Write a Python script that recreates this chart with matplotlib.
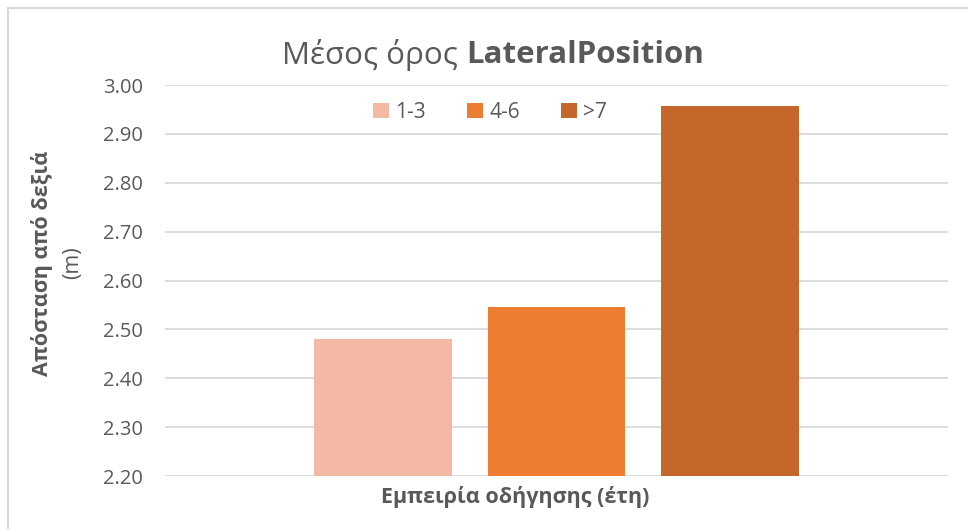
import matplotlib.pyplot as plt
from matplotlib.patches import Rectangle

groups = ["1-3", "4-6", ">7"]
values = [2.481, 2.545, 2.957]
colors = ["#F4B9A5", "#ED7D31", "#C5662A"]
yticks = [2.20, 2.30, 2.40, 2.50, 2.60, 2.70, 2.80, 2.90, 3.00]

W, H = 968, 529
plt.rcParams['font.family'] = ['Open Sans', 'DejaVu Sans']
txt = "#595959"

fig = plt.figure(figsize=(W / 100, H / 100), dpi=100)
# axes box in pixel coords: x 165-948, y 85-476
ax = fig.add_axes([165 / W, 1 - 476 / H, (948 - 165) / W, (476 - 85) / H])

pos = [-1, 0, 1]
for p, v, c, g in zip(pos, values, colors, groups):
    ax.bar(p, v - 2.2, bottom=2.2, width=0.79, color=c, label=g, zorder=3)

ax.set_ylim(2.2, 3.0)
ax.set_xlim(-2.256, 2.256)
ax.set_yticks(yticks)
ax.set_yticklabels([f"{t:.2f}" for t in yticks], fontsize=14.5, color=txt)
ax.set_xticks([])
ax.tick_params(axis='y', length=0, pad=16)
ax.grid(axis='y', color="#D9D9D9", linewidth=1.3, zorder=0)
for s in ax.spines.values():
    s.set_visible(False)

# title: regular + bold part, centred at x=493
t1 = fig.text(0, 1 - 55 / H, "Μέσος όρος ", fontsize=22.5, color=txt,
              va='center', ha='left')
t2 = fig.text(0, 1 - 55 / H, "LateralPosition", fontsize=22.5, color=txt,
              va='center', ha='left', fontweight='bold')
fig.canvas.draw()
r = fig.canvas.get_renderer()
w1 = t1.get_window_extent(r).width
w2 = t2.get_window_extent(r).width
x0 = 493 - (w1 + w2) / 2
t1.set_x(x0 / W)
t2.set_x((x0 + w1) / W)

fig.text(515 / W, 1 - 497 / H, "Εμπειρία οδήγησης (έτη)", fontsize=15.5,
         color=txt, fontweight='bold', ha='center', va='center')
fig.text(42 / W, 1 - 263 / H, "Απόσταση από δεξιά", fontsize=15.5,
         color=txt, fontweight='bold', rotation=90, ha='center', va='center')
fig.text(73 / W, 1 - 263 / H, "(m)", fontsize=15.5, color=txt,
         rotation=90, ha='center', va='center')

leg = ax.legend(ncol=3, loc='center', bbox_to_anchor=(490 / W, 1 - 112 / H),
                bbox_transform=fig.transFigure, frameon=False, fontsize=15,
                handlelength=0.75, handleheight=0.75, handletextpad=0.3,
                columnspacing=2.0)
for t in leg.get_texts():
    t.set_color(txt)

fig.patches.append(Rectangle((8 / W, -0.1), 1.1, 1 - 8 / H + 0.1,
                             transform=fig.transFigure, fill=False,
                             edgecolor="#D9D9D9", linewidth=1.5))

fig.savefig("out.png", dpi=100)
